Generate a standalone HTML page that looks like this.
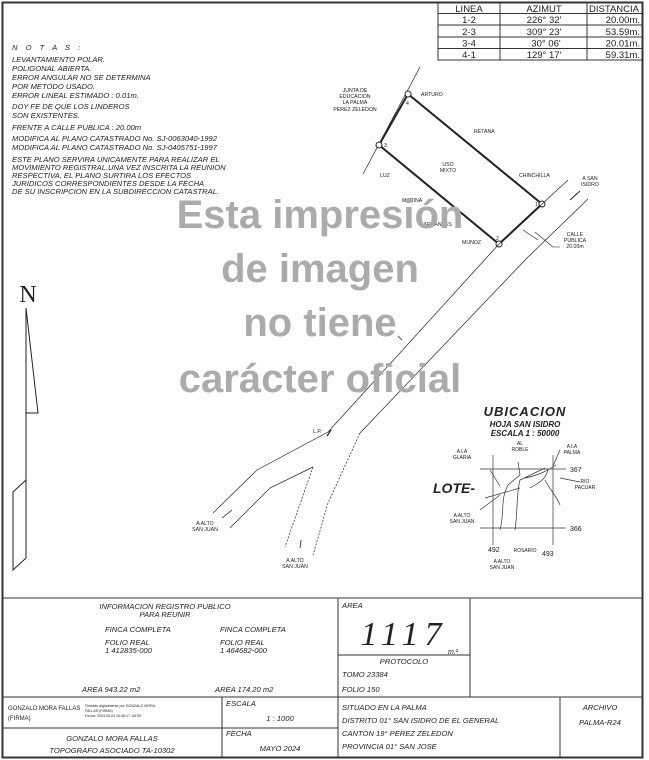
<!DOCTYPE html>
<html><head><meta charset="utf-8"><style>
html,body{margin:0;padding:0;background:#fff}
svg{display:block}
text{font-family:"Liberation Sans",sans-serif;fill:#222}
.it{font-style:italic}
.s{font-size:7.5px}
.tb{font-family:"Liberation Mono",monospace;font-size:9.5px}
</style></head><body>
<svg width="649" height="760" viewBox="0 0 649 760" xmlns="http://www.w3.org/2000/svg">
<rect x="2.5" y="2.5" width="640" height="755" fill="none" stroke="#333" stroke-width="2"/>
<!-- table -->
<g stroke="#333" stroke-width="1" fill="none">
<rect x="438" y="2.5" width="204.5" height="57.5"/>
<line x1="438" y1="13.5" x2="642" y2="13.5"/><line x1="438" y1="25" x2="642" y2="25"/><line x1="438" y1="37" x2="642" y2="37"/><line x1="438" y1="48.5" x2="642" y2="48.5"/>
<line x1="500" y1="2.5" x2="500" y2="60"/><line x1="587" y1="2.5" x2="587" y2="60"/>
</g>
<g class="tb">
<text x="469" y="12" text-anchor="middle">LINEA</text><text x="544" y="12" text-anchor="middle">AZIMUT</text><text x="614" y="12" text-anchor="middle">DISTANCIA</text>
<text x="469" y="23" text-anchor="middle">1-2</text><text x="544" y="23" text-anchor="middle">226° 32'</text><text x="640" y="23" text-anchor="end">20.00m.</text>
<text x="469" y="35" text-anchor="middle">2-3</text><text x="544" y="35" text-anchor="middle">309° 23'</text><text x="640" y="35" text-anchor="end">53.59m.</text>
<text x="469" y="46.5" text-anchor="middle">3-4</text><text x="546" y="46.5" text-anchor="middle">30° 06'</text><text x="640" y="46.5" text-anchor="end">20.01m.</text>
<text x="469" y="58" text-anchor="middle">4-1</text><text x="544" y="58" text-anchor="middle">129° 17'</text><text x="640" y="58" text-anchor="end">59.31m.</text>
</g>
<!-- notes -->
<g class="it" font-size="7.6">
<text x="12" y="50" letter-spacing="3">N O T A S :</text>
<text x="12" y="62">LEVANTAMIENTO POLAR.</text>
<text x="12" y="71">POLIGONAL ABIERTA.</text>
<text x="12" y="80">ERROR ANGULAR NO SE DETERMINA</text>
<text x="12" y="89">POR METODO USADO.</text>
<text x="12" y="98">ERROR LINEAL ESTIMADO : 0.01m.</text>
<text x="12" y="109">DOY FE DE QUE LOS LINDEROS</text>
<text x="12" y="118">SON EXISTENTES.</text>
<text x="12" y="130">FRENTE A CALLE PUBLICA : 20.00m</text>
<text x="12" y="141">MODIFICA AL PLANO CATASTRADO No. SJ-0063040-1992</text>
<text x="12" y="150">MODIFICA AL PLANO CATASTRADO No. SJ-0405751-1997</text>
<text x="12" y="162">ESTE PLANO SERVIRA UNICAMENTE PARA REALIZAR EL</text>
<text x="12" y="170">MOVIMIENTO REGISTRAL.UNA VEZ INSCRITA LA REUNION</text>
<text x="12" y="178">RESPECTIVA, EL PLANO SURTIRA LOS EFECTOS</text>
<text x="12" y="186">JURIDICOS CORRESPONDIENTES DESDE LA FECHA</text>
<text x="12" y="194">DE SU INSCRIPCION EN LA SUBDIRECCION CATASTRAL.</text>
</g>
<!-- parcel -->
<g stroke="#222" fill="none">
<line x1="420" y1="67" x2="363" y2="174" stroke-width="0.7"/>
<polygon points="408,94 542,204 499,244 379,145" stroke-width="2"/>
<circle cx="408" cy="94" r="3" fill="#fff" stroke-width="1"/><circle cx="379" cy="145" r="3" fill="#fff" stroke-width="1"/>
<circle cx="542" cy="204" r="3" fill="#fff" stroke-width="1"/><circle cx="499" cy="244" r="3" fill="#fff" stroke-width="1"/>
<polyline points="568,180 542,204 499,244 328,432 257,470 213,513" stroke-width="0.7"/>
<polyline points="588,199 527,258 360,433" stroke-width="0.7"/>
<polyline points="360,433 328,503 313,555" stroke-width="0.7" stroke-dasharray="2,1.5"/>
<polyline points="230,528 270,488 313,467" stroke-width="0.7"/>
<polyline points="313,467 285,547" stroke-width="0.7" stroke-dasharray="2,1.5"/>
<line x1="570" y1="200" x2="580" y2="191" stroke-width="1"/>
<line x1="523" y1="230" x2="538" y2="240" stroke-width="0.6"/>
<polyline points="535,232 553,247 560,247" stroke-width="0.6"/>
<line x1="331" y1="430" x2="327" y2="436" stroke-width="1.2"/>
<line x1="232" y1="510" x2="222" y2="518" stroke-width="0.8"/>
<line x1="301" y1="540" x2="300" y2="548" stroke-width="0.8"/>
<line x1="398" y1="336" x2="402" y2="340" stroke-width="0.8"/>
</g>
<g font-size="5.2" style="font-family:'Liberation Mono',monospace">
<text x="355" y="92" text-anchor="middle">JUNTA DE</text><text x="355" y="98" text-anchor="middle">EDUCACION</text><text x="355" y="104" text-anchor="middle">LA PALMA</text><text x="355" y="111" text-anchor="middle">PEREZ ZELEDON</text>
<text x="421" y="96">ARTURO</text><text x="406" y="105">4</text><text x="384" y="147">3</text>
<text x="474" y="133">RETANA</text><text x="448" y="166" text-anchor="middle">USO</text><text x="448" y="172" text-anchor="middle">MIXTO</text>
<text x="519" y="177">CHINCHILLA</text><text x="380" y="177">LUZ</text><text x="402" y="202">MARINA</text><text x="420" y="226">BARRANTES</text>
<text x="462" y="244">MUNOZ</text><text x="496" y="240">2</text><text x="535" y="206">1</text>
<text x="590" y="180" text-anchor="middle">A SAN</text><text x="590" y="186" text-anchor="middle">ISIDRO</text>
<text x="575" y="236" text-anchor="middle">CALLE</text><text x="575" y="242" text-anchor="middle">PUBLICA</text><text x="575" y="248" text-anchor="middle">20.00m</text>
<text x="313" y="433">L.P.</text>
<text x="205" y="525" text-anchor="middle">A ALTO</text><text x="205" y="531" text-anchor="middle">SAN JUAN</text>
<text x="295" y="562" text-anchor="middle">A ALTO</text><text x="295" y="568" text-anchor="middle">SAN JUAN</text>
</g>
<!-- north arrow -->
<g stroke="#222" fill="none" stroke-width="1">
<line x1="26" y1="308" x2="26" y2="558"/>
<polygon points="26,308 38,413 26,413"/>
<polygon points="26,480 13,492 13,570 26,558"/>
</g>
<text x="28" y="302" text-anchor="middle" font-size="24" style="font-family:'Liberation Serif',serif">N</text>
<!-- ubicacion -->
<g style="font-family:'Liberation Serif',serif" font-weight="bold" font-style="italic">
<text x="525" y="416" text-anchor="middle" font-size="13" letter-spacing="1">UBICACION</text>
<text x="525" y="427" text-anchor="middle" font-size="8">HOJA SAN ISIDRO</text>
<text x="525" y="436" text-anchor="middle" font-size="8">ESCALA 1 : 50000</text>
<text x="433" y="493" font-size="14">LOTE-</text>
</g>
<g stroke="#333" fill="none" stroke-width="0.7">
<line x1="493" y1="455" x2="493" y2="545"/><line x1="553" y1="455" x2="553" y2="545"/>
<line x1="480" y1="469" x2="566" y2="469"/><line x1="480" y1="528" x2="566" y2="528"/>
<path d="M500,530 C505,510 500,500 508,485 L520,475 M515,530 C518,510 516,495 520,480 L545,468 M525,478 C540,475 548,470 556,465 M548,470 C545,480 540,482 530,488 M545,480 C550,490 556,495 560,505 M485,498 L520,488 M500,486 L490,470 M480,510 L500,495 M520,475 L518,462 M553,466 L560,450"/>
<line x1="560" y1="478" x2="580" y2="482"/>
</g>
<g font-size="5" style="font-family:'Liberation Mono',monospace">
<text x="462" y="453" text-anchor="middle">A LA</text><text x="462" y="459" text-anchor="middle">GLARIA</text>
<text x="520" y="445" text-anchor="middle">AL</text><text x="520" y="451" text-anchor="middle">ROBLE</text>
<text x="572" y="448" text-anchor="middle">A LA</text><text x="572" y="454" text-anchor="middle">PALMA</text>
<text x="585" y="483" text-anchor="middle">RIO</text><text x="585" y="489" text-anchor="middle">PACUAR</text>
<text x="462" y="517" text-anchor="middle">A ALTO</text><text x="462" y="523" text-anchor="middle">SAN JUAN</text>
<text x="525" y="552" text-anchor="middle">ROSARIO</text>
<text x="502" y="563" text-anchor="middle">A ALTO</text><text x="502" y="569" text-anchor="middle">SAN JUAN</text>
<text x="570" y="472" font-size="7">367</text><text x="570" y="531" font-size="7">366</text>
<text x="488" y="552" font-size="7">492</text><text x="542" y="556" font-size="7">493</text>
</g>
<!-- watermark -->
<g font-weight="bold" text-anchor="middle" font-size="40" style="font-family:'DejaVu Sans','Liberation Sans',sans-serif">
<text x="320" y="228" style="fill:#ababab">Esta impresión</text>
<text x="320" y="282" style="fill:#ababab">de imagen</text>
<text x="320" y="336" style="fill:#ababab">no tiene</text>
<text x="320" y="392" style="fill:#ababab">carácter oficial</text>
</g>
<!-- title block -->
<g stroke="#333" fill="none" stroke-width="1">
<line x1="2" y1="598" x2="643" y2="598"/>
<line x1="338" y1="598" x2="338" y2="758"/>
<line x1="470" y1="598" x2="470" y2="697"/>
<line x1="338" y1="655" x2="470" y2="655"/>
<line x1="2" y1="697" x2="643" y2="697"/>
<line x1="222" y1="697" x2="222" y2="758"/>
<line x1="2" y1="728" x2="338" y2="728"/>
<line x1="560" y1="697" x2="560" y2="758"/>
</g>
<g class="it" font-size="7.6">
<text x="165" y="609" text-anchor="middle">INFORMACION REGISTRO PUBLICO</text>
<text x="165" y="617" text-anchor="middle">PARA REUNIR</text>
<text x="105" y="632">FINCA COMPLETA</text><text x="220" y="632">FINCA COMPLETA</text>
<text x="105" y="645">FOLIO REAL</text><text x="220" y="645">FOLIO REAL</text>
<text x="105" y="653">1 412835-000</text><text x="220" y="653">1 464682-000</text>
<text x="82" y="692">AREA 943.22 m2</text><text x="215" y="692">AREA 174.20 m2</text>
<text x="342" y="608">AREA</text>
<text x="404" y="664" text-anchor="middle">PROTOCOLO</text>
<text x="342" y="677">TOMO 23384</text><text x="342" y="692">FOLIO 150</text>
<text x="226" y="706">ESCALA</text><text x="280" y="721" text-anchor="middle">1 : 1000</text>
<text x="226" y="736">FECHA</text><text x="280" y="751" text-anchor="middle">MAYO 2024</text>
<text x="112" y="741" text-anchor="middle">GONZALO MORA FALLAS</text>
<text x="112" y="753" text-anchor="middle">TOPOGRAFO ASOCIADO TA-10302</text>
<text x="342" y="710">SITUADO EN LA PALMA</text>
<text x="342" y="723">DISTRITO 01° SAN ISIDRO DE EL GENERAL</text>
<text x="342" y="736">CANTON 19° PEREZ ZELEDON</text>
<text x="342" y="749">PROVINCIA 01° SAN JOSE</text>
<text x="600" y="710" text-anchor="middle">ARCHIVO</text>
<text x="600" y="725" text-anchor="middle">PALMA-R24</text>
</g>
<text x="404" y="645" text-anchor="middle" class="it" font-size="34" style="font-family:'Liberation Serif',serif" letter-spacing="6">1117</text>
<text x="448" y="654" class="it" font-size="7">m.²</text>
<text x="8" y="710" font-size="6">GONZALO MORA FALLAS</text>
<text x="8" y="720" font-size="6">(FIRMA)</text>
<g font-size="3.6"><text x="85" y="707">Firmado digitalmente por GONZALO MORA</text><text x="85" y="712">FALLAS (FIRMA)</text><text x="85" y="717">Fecha: 2024.05.24 16:46:17 -06'00'</text></g>
</svg>
</body></html>
